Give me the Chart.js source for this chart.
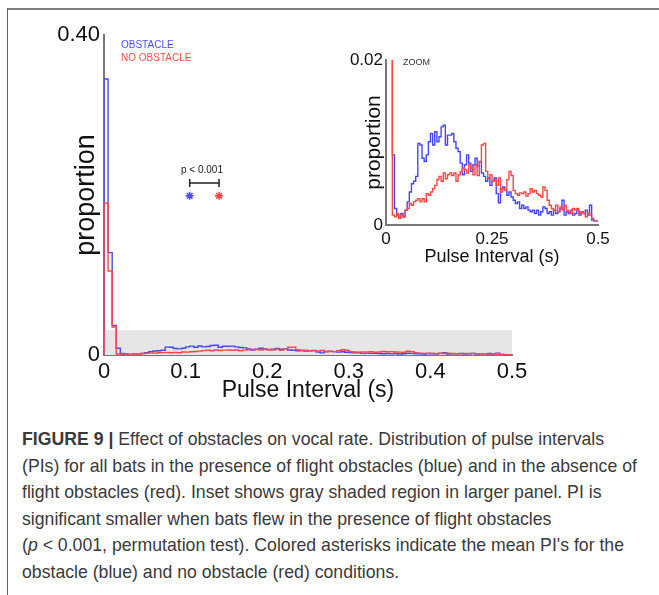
<!DOCTYPE html>
<html>
<head>
<meta charset="utf-8">
<script src="https://cdn.jsdelivr.net/npm/chart.js@4.4.1/dist/chart.umd.min.js"></script>
<style>
  body { margin: 0; background: #fff; }
  #page { position: relative; width: 659px; height: 595px; overflow: hidden; font-family: "Liberation Sans", Arial, sans-serif; }
  #frameTop { position: absolute; left: 7px; top: 8px; width: 652px; height: 2px; background: #808080; }
  #frameLeft { position: absolute; left: 7px; top: 8px; width: 1px; height: 587px; background: #666; }
  #mainWrap { position: absolute; left: 0; top: 0; width: 540px; height: 410px; }
  #insetWrap { position: absolute; left: 330px; top: 40px; width: 290px; height: 240px; }
  .lbl { position: absolute; white-space: nowrap; }
  #caption { position: absolute; left: 22px; top: 426px; color: #3a3a3a; font-size: 19px; line-height: 26.6px; }
  #caption div { white-space: nowrap; transform: scaleX(0.93); transform-origin: left; }
</style>
</head>
<body>
<div id="page">
  <div id="frameTop"></div>
  <div id="frameLeft"></div>
  <div id="mainWrap"><canvas id="mainChart" width="540" height="410"></canvas></div>
  <div id="insetWrap"><canvas id="insetChart" width="290" height="240"></canvas></div>
  <div class="lbl" style="left:121px;top:39px;font-size:10px;color:#4b4bff;">OBSTACLE</div>
  <div class="lbl" style="left:121px;top:52px;font-size:10px;color:#ff4b4b;">NO OBSTACLE</div>
  <div class="lbl" style="left:181px;top:164px;font-size:10px;color:#222;">p &lt; 0.001</div>
  <div class="lbl" style="left:403px;top:57px;font-size:9px;color:#333;">ZOOM</div>
  <div id="caption">
    <div><b>FIGURE 9 |</b> Effect of obstacles on vocal rate. Distribution of pulse intervals</div>
    <div>(PIs) for all bats in the presence of flight obstacles (blue) and in the absence of</div>
    <div>flight obstacles (red). Inset shows gray shaded region in larger panel. PI is</div>
    <div>significant smaller when bats flew in the presence of flight obstacles</div>
    <div>(<i>p</i> &lt; 0.001, permutation test). Colored asterisks indicate the mean PI's for the</div>
    <div>obstacle (blue) and no obstacle (red) conditions.</div>
  </div>
</div>
<script>
// histogram proportions, in units of 0.001, bins of 0.005 s from 0 to 0.5 s
const binWidth = 0.005;
const obstaclePerMille = [
  216, 345, 128, 37, 8.5, 2.0, 1.2, 0.8, 1.4, 1.0,
  1.8, 2.8, 4.0, 5.0, 5.3, 5.9, 9.9, 9.7, 8.1, 7.7,
  8.5, 10.1, 11.1, 9.7, 11.3, 10.1, 10.7, 11.9, 12.1, 9.7,
  10.9, 10.9, 11.1, 10.1, 9.3, 8.9, 7.5, 6.1, 7.3, 8.5,
  7.5, 6.5, 7.3, 8.1, 7.1, 7.7, 6.3, 5.9, 5.3, 5.7,
  4.8, 5.3, 5.7, 3.8, 2.7, 4.4, 4.6, 4.2, 3.6, 4.0,
  3.4, 3.0, 2.6, 2.8, 2.0, 2.4, 2.0, 2.2, 1.8, 1.6,
  1.8, 1.4, 1.8, 1.2, 1.6, 2.2, 2.0, 1.4, 1.6, 1.2,
  1.8, 1.4, 1.6, 2.0, 3.0, 1.2, 1.6, 1.4, 1.8, 1.2,
  1.4, 1.8, 1.2, 1.6, 1.4, 1.8, 1.2, 2.4, 0.6, 0.5
];
const noObstaclePerMille = [
  99, 190, 105, 35, 1.2, 1.0, 1.4, 0.8, 1.2, 1.0,
  1.8, 2.0, 2.6, 2.4, 2.8, 3.0, 3.2, 2.8, 3.2, 2.8,
  3.8, 3.6, 4.0, 4.4, 4.8, 5.5, 5.9, 5.3, 6.3, 5.6,
  6.1, 6.3, 6.0, 6.3, 5.3, 6.1, 6.5, 6.9, 6.7, 6.3,
  7.3, 6.9, 6.1, 7.3, 6.0, 7.7, 9.7, 9.9, 6.5, 5.7,
  6.1, 5.3, 5.5, 4.8, 5.7, 4.0, 4.4, 4.2, 5.5, 6.5,
  6.0, 4.2, 3.8, 3.6, 3.9, 3.8, 4.0, 3.5, 3.8, 4.4,
  4.0, 4.2, 3.8, 3.6, 3.4, 4.6, 4.2, 3.0, 2.4, 2.0,
  1.8, 2.4, 1.6, 2.2, 1.8, 2.4, 1.8, 1.6, 1.4, 2.0,
  1.8, 2.0, 1.4, 1.6, 1.4, 1.0, 1.4, 1.2, 0.8, 0.5
];
const meanObstacle = 0.105;
const meanNoObstacle = 0.141;
const markerLevel = 0.199;
const bracketLevel = 0.215;
const shadeTop = 0.031;

const mainXTicks = [0, 0.1, 0.2, 0.3, 0.4, 0.5];
const mainYTicks = [0, 0.40];
const insetXTicks = [0, 0.25, 0.5];
const insetYTicks = [0, 0.02];

const blue = 'rgb(70,70,255)';
const red = 'rgb(255,70,70)';
const axisGrey = '#777';

function histPoints(perMille, fromAxis) {
  const pts = fromAxis ? [{ x: 0, y: 0 }] : [];
  perMille.forEach((v, i) => pts.push({ x: i * binWidth, y: v / 1000 }));
  pts.push({ x: perMille.length * binWidth, y: perMille[perMille.length - 1] / 1000 });
  return pts;
}

function histDatasets(fromAxis) {
  return [
    { data: histPoints(noObstaclePerMille, fromAxis), borderColor: red, borderWidth: 1.4, stepped: 'after', pointRadius: 0, fill: false, order: 0 },
    { data: histPoints(obstaclePerMille, fromAxis), borderColor: blue, borderWidth: 1.4, stepped: 'after', pointRadius: 0, fill: false, order: 1 }
  ];
}

function fixedTicks(values) {
  return function (scale) { scale.ticks = values.map(v => ({ value: v })); };
}

// gray band showing the zoomed region, plus the p-value bracket
const mainExtras = {
  id: 'mainExtras',
  beforeDatasetsDraw(chart) {
    const { ctx, scales: { x, y } } = chart;
    ctx.save();
    ctx.fillStyle = '#e6e6e6';
    ctx.fillRect(x.getPixelForValue(0), y.getPixelForValue(shadeTop), x.getPixelForValue(0.5) - x.getPixelForValue(0), y.getPixelForValue(0) - y.getPixelForValue(shadeTop));
    const x1 = x.getPixelForValue(meanObstacle), x2 = x.getPixelForValue(meanNoObstacle), yb = y.getPixelForValue(bracketLevel);
    ctx.strokeStyle = '#222';
    ctx.lineWidth = 1.5;
    ctx.beginPath();
    ctx.moveTo(x1, yb); ctx.lineTo(x2, yb);
    ctx.moveTo(x1, yb - 4); ctx.lineTo(x1, yb + 4);
    ctx.moveTo(x2, yb - 4); ctx.lineTo(x2, yb + 4);
    ctx.stroke();
    ctx.restore();
  }
};

const font = 'Liberation Sans';

new Chart(document.getElementById('mainChart'), {
  type: 'line',
  data: {
    datasets: histDatasets(true).concat([
      { type: 'scatter', data: [{ x: meanObstacle, y: markerLevel }], pointStyle: 'star', pointRadius: 4, borderColor: blue, backgroundColor: blue, borderWidth: 1.5, order: 0 },
      { type: 'scatter', data: [{ x: meanNoObstacle, y: markerLevel }], pointStyle: 'star', pointRadius: 4, borderColor: red, backgroundColor: red, borderWidth: 1.5, order: 0 }
    ])
  },
  options: {
    responsive: false,
    animation: false,
    layout: { padding: { top: 35, right: 28, left: 0, bottom: 0 } },
    plugins: { legend: { display: false }, tooltip: { enabled: false } },
    scales: {
      x: {
        type: 'linear', min: 0, max: 0.5,
        afterBuildTicks: fixedTicks(mainXTicks),
        afterFit(s) { s.height = 55; },
        grid: { display: false, drawTicks: false },
        border: { display: true, color: axisGrey, width: 2 },
        ticks: { padding: 4, color: '#111', font: { family: font, size: 22 }, maxRotation: 0, callback: v => v === 0 ? '0' : v.toFixed(1) },
        title: { display: true, text: 'Pulse Interval (s)', color: '#111', font: { family: font, size: 23 }, padding: { top: 0, bottom: 6 } }
      },
      y: {
        type: 'linear', min: 0, max: 0.4,
        afterBuildTicks: fixedTicks(mainYTicks),
        afterFit(s) { s.width = 104; },
        grid: { display: false, drawTicks: false },
        border: { display: true, color: axisGrey, width: 2 },
        ticks: { padding: 4, color: '#111', font: { family: font, size: 22 }, callback: v => v === 0 ? '0' : v.toFixed(2) },
        title: { display: true, text: 'proportion', color: '#111', font: { family: font, size: 27 }, padding: { top: 70, bottom: 0 } }
      }
    }
  },
  plugins: [mainExtras]
});

new Chart(document.getElementById('insetChart'), {
  type: 'line',
  data: { datasets: histDatasets(false) },
  options: {
    responsive: false,
    animation: false,
    layout: { padding: { top: 20, right: 22, left: 0, bottom: 0 } },
    plugins: { legend: { display: false }, tooltip: { enabled: false } },
    scales: {
      x: {
        type: 'linear', min: 0, max: 0.5,
        afterBuildTicks: fixedTicks(insetXTicks),
        afterFit(s) { s.height = 55; },
        grid: { display: false, drawTicks: false },
        border: { display: true, color: axisGrey, width: 2 },
        ticks: { padding: 4, color: '#111', font: { family: font, size: 17 }, maxRotation: 0, callback: v => String(v) },
        title: { display: true, text: 'Pulse Interval (s)', color: '#111', font: { family: font, size: 18 }, padding: { top: 0, bottom: 12 } }
      },
      y: {
        type: 'linear', min: 0, max: 0.02,
        afterBuildTicks: fixedTicks(insetYTicks),
        afterFit(s) { s.width = 56; },
        grid: { display: false, drawTicks: false },
        border: { display: true, color: axisGrey, width: 2 },
        ticks: { padding: 3, color: '#111', font: { family: font, size: 17 }, callback: v => v === 0 ? '0' : v.toFixed(2) },
        title: { display: true, text: 'proportion', color: '#111', font: { family: font, size: 21 }, padding: { top: 32, bottom: 0 } }
      }
    }
  }
});
</script>
</body>
</html>
